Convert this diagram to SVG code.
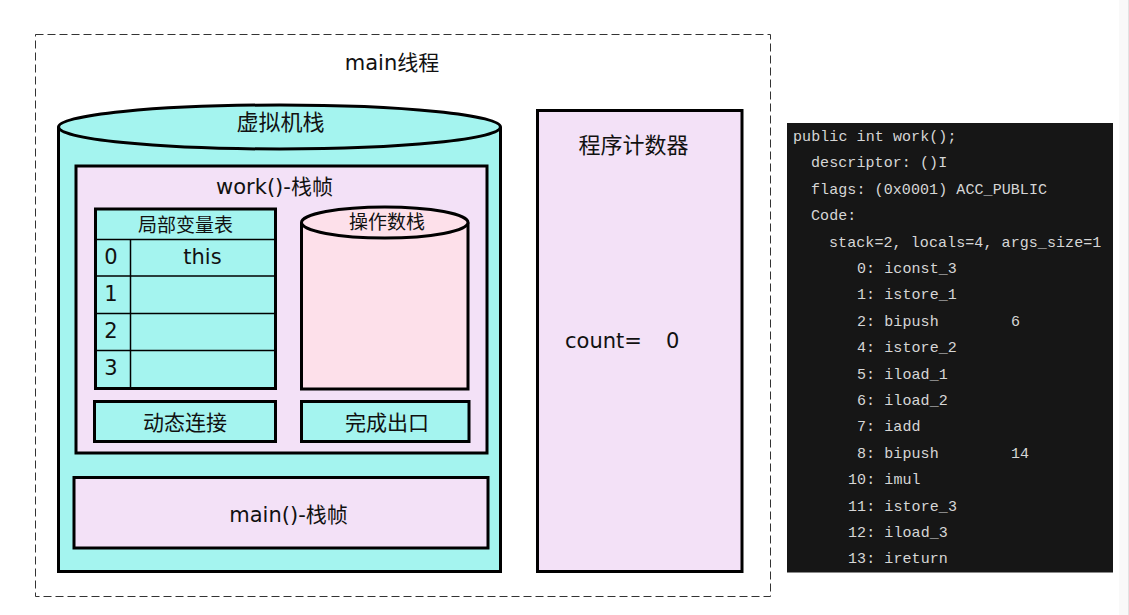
<svg xmlns="http://www.w3.org/2000/svg" width="1129" height="615" viewBox="0 0 1129 615">
<style>
.t{font-family:"DejaVu Sans","Noto Sans CJK SC",sans-serif;fill:#111;text-anchor:middle}
.cy{fill:#a4f4ef}
.lv{fill:#f3e1f7}
.pk{fill:#fde0ea}
.bd{stroke:#000;stroke-width:3}
.thin{stroke:#000;stroke-width:1.5;fill:none}
.code{font-family:"Liberation Mono","DejaVu Sans Mono",monospace;font-size:15px;fill:#d6d6d6;letter-spacing:0.08px}
</style>
<rect width="1129" height="615" fill="#fff"/>
<rect x="1119" y="0" width="10" height="615" fill="#f9f9f9"/>
<line x1="1128.5" y1="0" x2="1128.5" y2="615" stroke="#e2e2e2"/>

<g id="main-thread">
  <rect x="35.5" y="34.5" width="735" height="562" fill="none" stroke="#333" stroke-width="1" stroke-dasharray="8 4"/>
  <text class="t" x="392" y="70" font-size="21">main线程</text>
</g>

<g id="vm-stack">
  <path class="cy bd" d="M58.5 127 V571.5 H500.5 V127"/>
  <ellipse class="cy bd" cx="279.5" cy="127" rx="221" ry="22"/>
  <text class="t" x="280.5" y="130" font-size="22">虚拟机栈</text>
</g>

<g id="work-frame">
  <rect class="lv bd" x="76" y="166" width="411" height="287"/>
  <text class="t" x="274.5" y="194" font-size="21">work()-栈帧</text>
</g>

<g id="local-vars">
  <rect class="cy bd" x="95.5" y="209" width="180" height="179.5"/>
  <line class="thin" x1="95.5" y1="239.5" x2="275.5" y2="239.5"/>
  <line class="thin" x1="95.5" y1="276" x2="275.5" y2="276"/>
  <line class="thin" x1="95.5" y1="313.5" x2="275.5" y2="313.5"/>
  <line class="thin" x1="95.5" y1="350.5" x2="275.5" y2="350.5"/>
  <line class="thin" x1="130.5" y1="239.5" x2="130.5" y2="388.5"/>
  <text class="t" x="185.5" y="232" font-size="19">局部变量表</text>
  <text class="t" x="111" y="264" font-size="21">0</text>
  <text class="t" x="202.5" y="264" font-size="21">this</text>
  <text class="t" x="111" y="301" font-size="21">1</text>
  <text class="t" x="111" y="338" font-size="21">2</text>
  <text class="t" x="111" y="375" font-size="21">3</text>
</g>

<g id="operand-stack">
  <path class="pk bd" d="M301.5 222.5 V389 H468 V222.5"/>
  <ellipse class="pk bd" cx="384.75" cy="222.5" rx="83.25" ry="15.5"/>
  <text class="t" x="387" y="229" font-size="19">操作数栈</text>
</g>

<g id="dynamic-link">
  <rect class="cy bd" x="94.5" y="401.5" width="181" height="40"/>
  <text class="t" x="185" y="430" font-size="21">动态连接</text>
</g>

<g id="return-address">
  <rect class="cy bd" x="301.5" y="401.5" width="167.5" height="40"/>
  <text class="t" x="387" y="430" font-size="21">完成出口</text>
</g>

<g id="main-frame">
  <rect class="lv bd" x="74" y="477.5" width="414" height="70.5"/>
  <text class="t" x="288.5" y="521.5" font-size="21">main()-栈帧</text>
</g>

<g id="pc-register">
  <rect class="lv bd" x="537.5" y="110.5" width="204.5" height="461"/>
  <text class="t" x="633.5" y="153" font-size="22">程序计数器</text>
  <text class="t" x="565" y="348" font-size="21" style="text-anchor:start">count=</text>
  <text class="t" x="666" y="348" font-size="21" style="text-anchor:start">0</text>
</g>

<g id="bytecode">
  <rect x="787" y="123" width="326" height="449.5" fill="#161616"/>
  <text class="code" x="793" y="141">public int work();</text>
  <text class="code" x="811" y="167.4">descriptor: ()I</text>
  <text class="code" x="811" y="193.8">flags: (0x0001) ACC_PUBLIC</text>
  <text class="code" x="811" y="220.2">Code:</text>
  <text class="code" x="829" y="246.6">stack=2, locals=4, args_size=1</text>
  <text class="code" x="857" y="273">0: iconst_3</text>
  <text class="code" x="857" y="299.4">1: istore_1</text>
  <text class="code" x="857" y="325.8">2: bipush</text>
  <text class="code" x="1011" y="325.8">6</text>
  <text class="code" x="857" y="352.2">4: istore_2</text>
  <text class="code" x="857" y="378.6">5: iload_1</text>
  <text class="code" x="857" y="405">6: iload_2</text>
  <text class="code" x="857" y="431.4">7: iadd</text>
  <text class="code" x="857" y="457.8">8: bipush</text>
  <text class="code" x="1011" y="457.8">14</text>
  <text class="code" x="848" y="484.2">10: imul</text>
  <text class="code" x="848" y="510.6">11: istore_3</text>
  <text class="code" x="848" y="537">12: iload_3</text>
  <text class="code" x="848" y="563.4">13: ireturn</text>
</g>

<g id="connectors"></g>
</svg>
